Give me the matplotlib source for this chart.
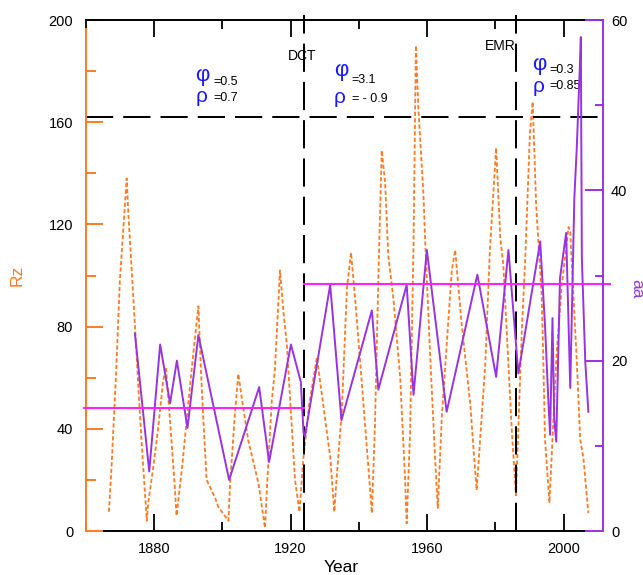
import matplotlib
matplotlib.use("Agg")
import matplotlib.pyplot as plt
from matplotlib.ticker import MultipleLocator

plt.rcParams['font.family'] = ['Liberation Sans', 'DejaVu Sans']

# sunspot number Rz (orange dotted)
rz_year = [1866.8, 1867.6, 1868.9, 1870.0, 1872.0, 1872.5, 1874.4, 1875.6, 1876.6, 1877.9,
           1878.3, 1879.8, 1881.1, 1882.7, 1883.5, 1884.7, 1886.0, 1886.6, 1888.3, 1891.0,
           1893.0, 1893.7, 1894.4, 1895.4, 1897.9, 1898.8, 1901.8, 1902.3, 1903.7, 1904.7,
           1905.7, 1907.6, 1910.6, 1912.5, 1913.2, 1914.5, 1915.4, 1916.9, 1917.9, 1918.9,
           1921.3, 1922.6, 1923.7, 1925.5, 1927.7, 1929.5, 1931.6, 1932.8, 1933.5, 1935.0,
           1936.5, 1937.7, 1938.9, 1940.8, 1943.3, 1943.8, 1944.7, 1945.7, 1946.7, 1947.7,
           1948.6, 1950.1, 1952.1, 1953.5, 1954.0, 1955.0, 1956.0, 1956.7, 1957.4, 1958.9,
           1959.4, 1960.9, 1962.3, 1963.1, 1964.3, 1967.2, 1968.2, 1970.1, 1972.6, 1973.8,
           1974.5, 1977.0, 1978.4, 1980.2, 1981.4, 1982.3, 1983.8, 1984.8, 1986.0, 1987.7,
           1988.7, 1990.1, 1990.9, 1991.9, 1992.9, 1993.5, 1994.0, 1994.5, 1995.8, 1997.9,
           1999.4, 2001.4, 2001.9, 2002.8, 2003.8, 2004.8, 2005.8, 2007.2]
rz_vals = [7.5, 26, 62, 98, 138, 124, 81, 52, 30, 4,
           11, 25, 39, 59, 64, 43, 19, 6, 26, 63,
           88, 64, 45, 20, 13, 9.5, 4, 19, 46, 61.5,
           52, 35.5, 18.6, 1.2, 20, 51, 63, 102, 86, 73,
           20, 7.5, 28, 50, 68, 50, 29, 7.5, 21, 47,
           95, 109, 91, 59, 16, 7, 41, 99, 149, 136,
           108, 91, 60, 21, 3, 39, 112, 190, 166, 132,
           114, 68, 29, 9, 45, 102, 110, 81, 50, 28,
           16, 65, 111, 150, 115, 104, 65, 39, 14, 78,
           106, 156, 168, 128, 106, 93, 68, 36, 11, 69,
           96, 119, 117, 93, 67, 36, 28, 7]

# aa index (purple)
aa_year = [1874.4, 1878.6, 1881.8, 1884.7, 1886.7, 1889.8, 1893.0, 1902.0, 1910.8, 1913.7,
           1920.1, 1923.0, 1923.8, 1924.2, 1931.6, 1934.9, 1943.8, 1945.7, 1954.0, 1956.0,
           1959.9, 1965.7, 1974.7, 1980.2, 1983.8, 1986.7, 1993.1, 1994.5, 1995.5, 1996.0,
           1996.7, 1997.2, 1997.8, 1998.9, 2000.7, 2001.9, 2003.1, 2003.8, 2004.8, 2005.0,
           2005.3, 2006.3, 2007.2]
aa_vals = [23.2, 7.0, 21.9, 15.0, 20.0, 12.1, 23.0, 6.0, 16.9, 8.1,
           21.9, 17.5, 11.5, 11.1, 28.9, 13.0, 25.9, 16.6, 28.9, 16.0,
           33.0, 14.0, 30.1, 18.1, 33.0, 18.5, 34.0, 24.2, 15.2, 11.3,
           25.0, 13.2, 10.5, 29.7, 35.0, 16.8, 39.1, 44.9, 55.5, 58.0,
           32.0, 19.9, 14.0]

# mean aa levels before / after 1924
mean_x = [[1859.5, 1924.0], [1924.0, 2013.5]]
mean_aa = [14.5, 29.0]

events = [1924, 1986]
event_names = ["DCT", "EMR"]
rz_level = 162

phi_vals = ["=0.5", "=3.1", "=0.3"]
rho_vals = ["=0.7", "= - 0.9", "=0.85"]

orange = '#ff7b24'
purple = '#9933dd'
magenta = '#ff22ff'

fig = plt.figure(figsize=(6.43, 5.75), dpi=100)
ax = fig.add_axes([0.1333, 0.0765, 0.804, 0.8887])
ax2 = ax.twinx()

ax.plot(rz_year, rz_vals, color=orange, lw=1.3, linestyle=(0, (2.3, 1.3)))
ax.axhline(rz_level, color='black', lw=1.45, dashes=(13.5, 5))
for ev in events:
    ax.axvline(ev, color='black', lw=1.45, dashes=(14, 5), ymax=1.01, clip_on=False)

ax2.plot(aa_year, aa_vals, color=purple, lw=1.4)
for xs, lvl in zip(mean_x, mean_aa):
    ax2.plot(xs, [lvl, lvl], color=magenta, lw=1.5, clip_on=False)

ax.set_xlim(1860, 2011.4)
ax.set_ylim(0, 200)
ax2.set_ylim(0, 60)

ax.xaxis.set_major_locator(MultipleLocator(40))
ax.xaxis.set_minor_locator(MultipleLocator(20))
ax.yaxis.set_major_locator(MultipleLocator(40))
ax.yaxis.set_minor_locator(MultipleLocator(20))
ax2.yaxis.set_major_locator(MultipleLocator(20))
ax2.yaxis.set_minor_locator(MultipleLocator(10))

ax.tick_params(axis='x', which='both', direction='in', top=True, colors='black',
               width=1.3, labelsize=10.5, pad=8)
ax.tick_params(axis='x', which='major', length=12.2)
ax.tick_params(axis='x', which='minor', length=6.5)
ax.tick_params(axis='y', which='both', direction='in', color=orange, width=1.4,
               labelcolor='black', labelsize=10.5, pad=9)
ax.tick_params(axis='y', which='major', length=12.2)
ax.tick_params(axis='y', which='minor', length=7.2)
ax2.tick_params(axis='y', which='both', direction='in', color=purple, width=1.4,
                labelcolor='black', labelsize=10.5, pad=6)
ax2.tick_params(axis='y', which='major', length=13)
ax2.tick_params(axis='y', which='minor', length=6)

for s in ['top', 'bottom']:
    ax.spines[s].set_linewidth(1.4)
    ax.spines[s].set_color('black')
ax.spines['bottom'].set_bounds(1865.3, 2006.3)
ax.spines['left'].set_color(orange)
ax.spines['left'].set_linewidth(1.4)
ax.spines['left'].set_bounds(0, 196.5)
ax.spines['right'].set_visible(False)
for s in ['left', 'top', 'bottom']:
    ax2.spines[s].set_visible(False)
ax2.spines['right'].set_color(purple)
ax2.spines['right'].set_linewidth(1.4)

ax.set_xlabel("Year", fontsize=12.5)
ax.xaxis.set_label_coords(0.494, -0.0705)
ax.xaxis.label.set_va('center')
ax.set_ylabel("Rz", fontsize=12.5, color=orange)
ax.yaxis.set_label_coords(-0.133, 0.50)
ax.yaxis.label.set_va('center')
ax2.set_ylabel("aa", fontsize=12.5, color=purple, rotation=-90)
ax2.yaxis.set_label_coords(1.066, 0.475)
ax2.yaxis.label.set_va('center')

ax.text(1923.4, 185.8, "DCT", fontsize=10, ha='center', va='center')
ax.text(1981.3, 190, "EMR", fontsize=10, ha='center', va='center')

phi_xy = [(1894.1, 178.3), (1934.8, 180.3), (1992.8, 182.6)]
rho_xy = [(1893.8, 170.1), (1934.2, 169.8), (1992.5, 174.0)]
phi_off = [(3.4, -2.7), (3.1, -3.9), (3.1, -2.3)]
rho_off = [(3.7, -0.7), (3.7, -0.8), (3.4, 0.0)]
for (x, y), (dx, dy), t in zip(phi_xy, phi_off, phi_vals):
    ax.text(x, y, "φ", fontsize=16, color='#1a1aff', ha='center', va='center')
    ax.text(x + dx, y + dy, t, fontsize=9, ha='left', va='center')
for (x, y), (dx, dy), t in zip(rho_xy, rho_off, rho_vals):
    ax.text(x, y, "ρ", fontsize=15, color='#1a1aff', ha='center', va='center')
    ax.text(x + dx, y + dy, t, fontsize=9, ha='left', va='center')

fig.savefig("out.png", dpi=100)
